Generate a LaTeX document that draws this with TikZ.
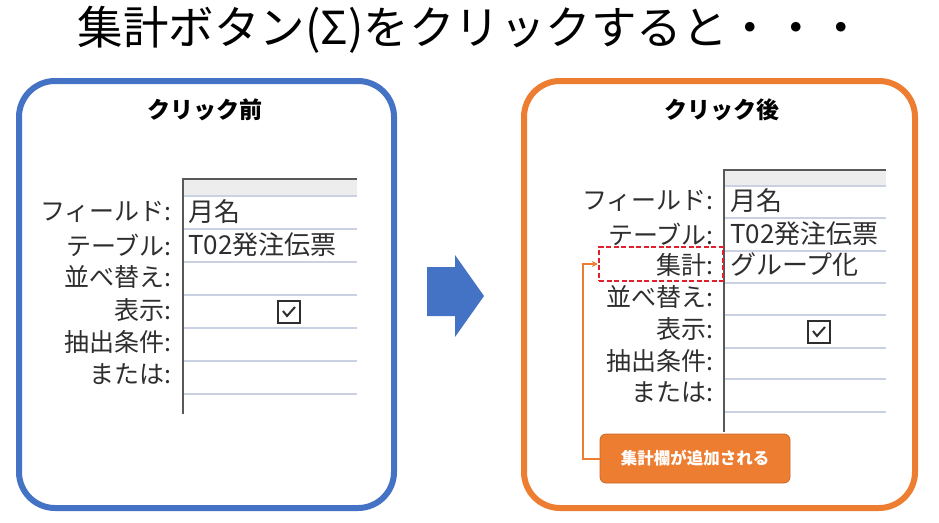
\documentclass[tikz,border=0pt]{standalone}
\usepackage{fontspec}
\usetikzlibrary{arrows.meta}
\newfontfamily\jp{Noto Sans CJK JP}
\definecolor{cblue}{HTML}{4472C4}
\definecolor{corange}{HTML}{ED7D31}
\definecolor{cred}{HTML}{E0202A}
\definecolor{rowline}{HTML}{C9D1E3}
\definecolor{band}{HTML}{EDEDED}
\definecolor{ink}{HTML}{2E2E2E}
\tikzset{
  panel/.style={line width=6pt, rounded corners=36pt},
  heading/.style={font=\jp\bfseries\fontsize{23}{23}\selectfont, text=black, inner sep=0pt},
  lab/.style={font=\jp\fontsize{25}{25}\selectfont, text=ink, anchor=east, inner sep=0pt},
  val/.style={font=\jp\fontsize{26}{26}\selectfont, text=ink, anchor=west, inner sep=0pt},
  rline/.style={draw=rowline, line width=1.2pt},
  frame/.style={draw=ink!80, line width=1.4pt},
  cbox/.style={draw=ink, line width=2pt, minimum size=22pt, inner sep=0pt},
  callout/.style={fill=corange, draw=corange!85!black, line width=0.8pt, rounded corners=6pt,
    minimum width=190pt, minimum height=49pt, text=white, font=\jp\bfseries\fontsize{16.5}{16.5}\selectfont},
}
\begin{document}
\begin{tikzpicture}[x=1pt,y=-1pt]
\useasboundingbox (0,0) rectangle (939,522);
% title
\node[font=\jp\fontsize{45.5}{45.5}\selectfont, inner sep=0pt] (title) at (471,30) {集計ボタン(Σ)をクリックすると・・・};
% panels
\draw[panel, draw=cblue] (19,81) rectangle (394,508);
\draw[panel, draw=corange] (524,81) rectangle (915,508);
\node[heading] (h1) at (205,110) {クリック前};
\node[heading] (h2) at (722,110) {クリック後};
% big arrow
\fill[cblue] (427,267) -- (455,267) -- (455,255) -- (484,296) -- (455,337) -- (455,316) -- (427,316) -- cycle;

% ---------- left table ----------
\fill[band] (184,180) rectangle (357,196);
\foreach \y in {196,229,262,295,328,361,394} \draw[rline] (184,\y) -- (357,\y);
\draw[frame] (357,179) -- (183,179) -- (183,414);
\node[lab] (l1) at (172,212) {フィールド:};
\node[lab] (l2) at (172,245) {テーブル:};
\node[lab] (l3) at (172,277) {並べ替え:};
\node[lab] (l4) at (172,310) {表示:};
\node[lab] (l5) at (172,342) {抽出条件:};
\node[lab] (l6) at (172,374) {または:};
\node[val] (v1) at (188,212) {月名};
\node[val] (v2) at (188,245) {T02発注伝票};
\node[cbox] (cb1) at (289,312) {};
\draw[ink, line width=2pt] (cb1.center) ++(-6,-1) -- ++(4,5) -- ++(8,-9);

% ---------- right table ----------
\fill[band] (725,171) rectangle (886,186);
\foreach \y in {186,218,251,283,315,348,379,412} \draw[rline] (725,\y) -- (886,\y);
\draw[frame] (886,170) -- (724,170) -- (724,432);
\node[lab] (r1) at (714,201) {フィールド:};
\node[lab] (r2) at (714,234) {テーブル:};
\node[lab] (r3) at (714,265) {集計:};
\node[lab] (r4) at (714,297) {並べ替え:};
\node[lab] (r5) at (714,329) {表示:};
\node[lab] (r6) at (714,361) {抽出条件:};
\node[lab] (r7) at (714,392) {または:};
\node[val] (w1) at (730,201) {月名};
\node[val] (w2) at (730,234) {T02発注伝票};
\node[val] (w3) at (730,265) {グループ化};
\node[cbox] (cb2) at (819,332) {};
\draw[ink, line width=2pt] (cb2.center) ++(-6,-1) -- ++(4,5) -- ++(8,-9);

% highlight and callout
\node[draw=cred, dash pattern=on 5pt off 2.5pt, line width=2.5pt, minimum width=124pt, minimum height=34pt, inner sep=0pt] (hl) at (661,264) {};
\node[callout] (co) at (695,458.5) {集計欄が追加される};
\draw[corange, line width=2pt, -{Stealth[length=6pt,width=6pt]}] (co.west) -- ++(-17,0) |- (hl.west);
\end{tikzpicture}
\end{document}
